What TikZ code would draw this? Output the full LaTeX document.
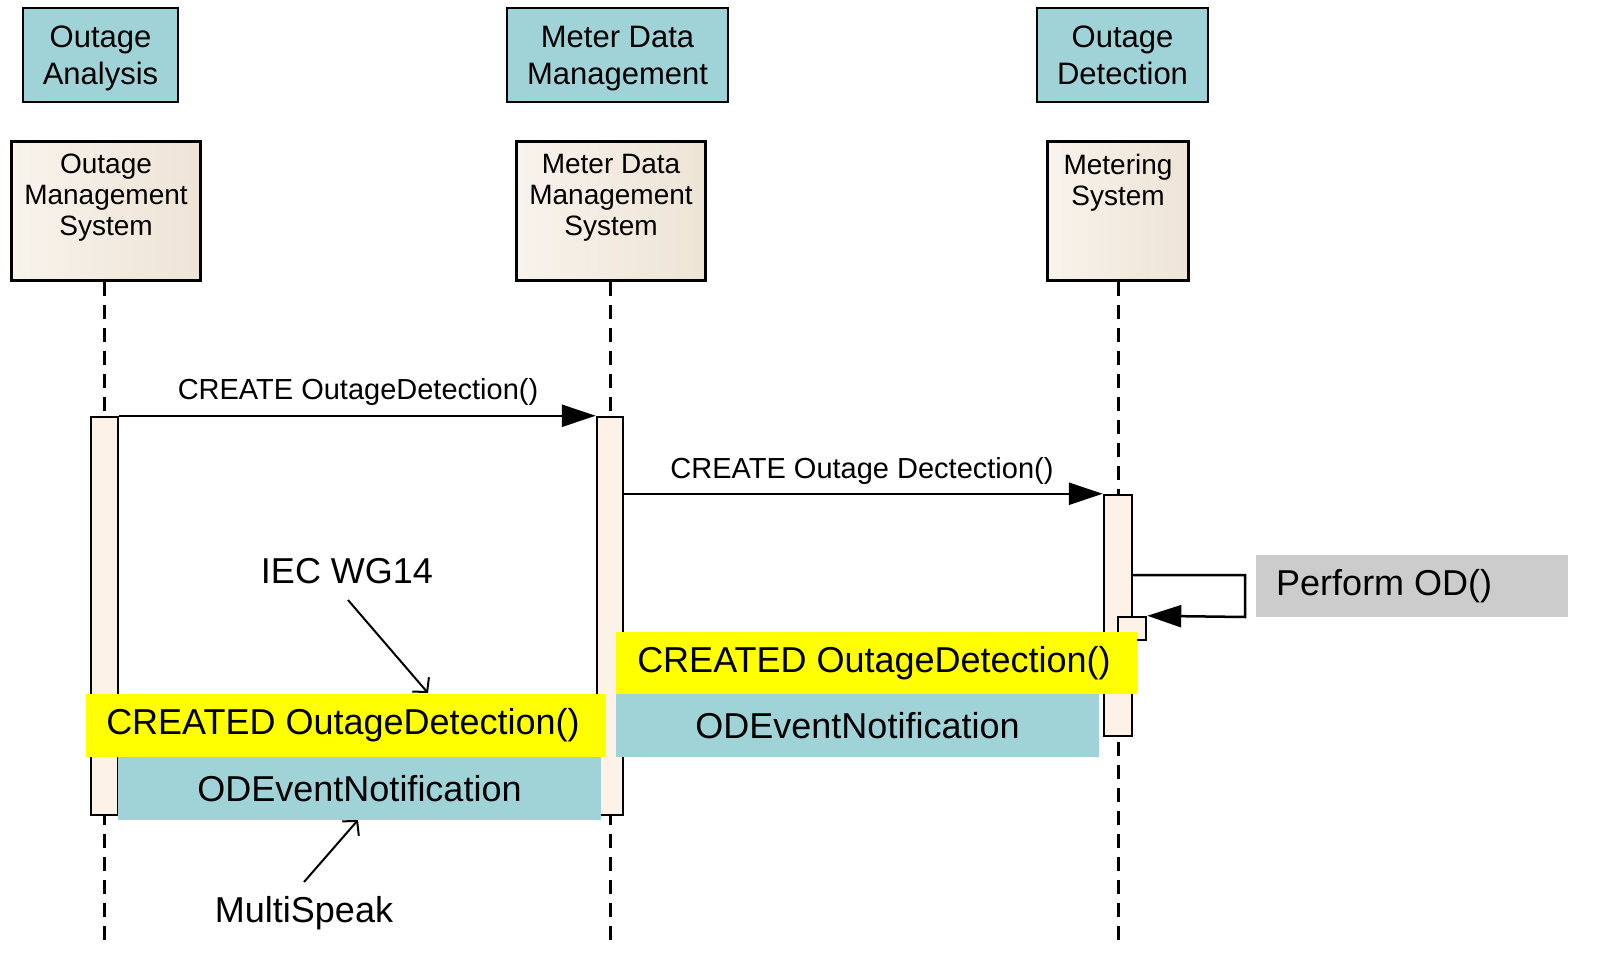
\documentclass[tikz,border=0pt]{standalone}
\usepackage{fontspec}
\setmainfont{Liberation Sans}
\usetikzlibrary{arrows.meta}
\definecolor{tealbox}{RGB}{159,211,216}
\definecolor{beigeL}{RGB}{248,243,236}
\definecolor{beigeR}{RGB}{238,228,214}
\definecolor{barfill}{RGB}{252,242,232}
\definecolor{grayod}{RGB}{204,204,204}
\definecolor{yel}{RGB}{255,255,0}
\tikzset{
  topbox/.style={draw=black, line width=2.5pt, fill=tealbox, inner sep=0pt},
  toptext/.style={inner sep=0pt, align=center, font=\fontsize{31}{37}\selectfont},
  headbox/.style={draw=black, line width=3pt, left color=beigeL, right color=beigeR, inner sep=0pt},
  headtext/.style={anchor=north, align=center, inner sep=0pt, font=\fontsize{28}{31}\selectfont},
  lifeline/.style={line width=3pt, dash pattern=on 14pt off 9pt},
  actbar/.style={draw=black, line width=2.5pt, fill=barfill, inner sep=0pt},
  msg/.style={line width=2.5pt, -{Triangle[length=34pt,width=22pt]}},
  msglabel/.style={inner sep=0pt, font=\fontsize{29}{32}\selectfont},
  band/.style={inner sep=0pt, font=\fontsize{36}{40}\selectfont},
  note/.style={inner sep=0pt, font=\fontsize{36}{40}\selectfont},
  notearrow/.style={line width=2pt, -{Straight Barb[length=10pt,width=22pt]}}
}
\begin{document}
\begin{tikzpicture}[x=1pt,y=-1pt]
\useasboundingbox (0,0) rectangle (1608,966);
% top boxes
\node[topbox, minimum width=155pt, minimum height=94pt] (oa) at (100.5,55) {};
\node[topbox, minimum width=221pt, minimum height=94pt] (mdm) at (617.5,55) {};
\node[topbox, minimum width=171pt, minimum height=94pt] (od) at (1122.5,55) {};
\node[toptext] (oat) at (100.5,58) {Outage\\Analysis};
\node[toptext] (mdmt) at (617.5,59) {Meter Data\\Management};
\node[toptext] (odt) at (1122.5,55.5) {Outage\\Detection};
% lifeline heads
\node[headbox, minimum width=189pt, minimum height=139pt] (oms) at (105.5,210.5) {};
\node[headbox, minimum width=189pt, minimum height=139pt] (mdms) at (610.5,210.5) {};
\node[headbox, minimum width=141pt, minimum height=139pt] (ms) at (1117.5,210.5) {};
\node[headtext] (omst) at (106,154) {Outage\\Management\\System};
\node[headtext] (mdmst) at (611,154) {Meter Data\\Management\\System};
\node[headtext] (mst) at (1118,154) {Metering\\System};
% lifelines
\coordinate (omsend) at (104,945);
\coordinate (mdmsend) at (610,945);
\coordinate (msend) at (1118,945);
\draw[lifeline] (104,281.5) -- (omsend);
\draw[lifeline] (610,281.5) -- (mdmsend);
\draw[lifeline] (1118,281.5) -- (msend);
% activation bars
\node[actbar, minimum width=27pt, minimum height=398pt] (omsbar) at (104.5,616) {};
\node[actbar, minimum width=26pt, minimum height=398pt] (mdmsbar) at (610,616) {};
\node[actbar, minimum width=28pt, minimum height=241pt] (msbar) at (1118,615.5) {};
\node[actbar, minimum width=28pt, minimum height=23pt] (nest) at (1132,628.5) {};
% messages
\draw[msg] (omsbar.north east) -- (mdmsbar.north west);
\node[msglabel] (m1) at (358,392) {CREATE OutageDetection()};
\draw[msg] (mdmsbar.east |- msbar.north) -- (msbar.north west);
\node[msglabel] (m2) at (862,471) {CREATE Outage Dectection()};
% self message
\coordinate (s1) at (1132,575);
\coordinate (s2) at (1245,575);
\coordinate (s3) at (1245,617);
\draw[msg] (s1) -- (s2) -- (s3) -- (nest.north east);
% perform box
\node[fill=grayod, minimum width=312pt, minimum height=62pt, inner sep=0pt] (pbox) at (1412,586) {};
\node[note, anchor=west] (ptext) at (1276,586) {Perform OD()};
% bands
\node[band, fill=yel, minimum width=520pt, minimum height=63pt] (yl) at (346,725.5) {};
\node[band] (ylt) at (343,725.5) {CREATED OutageDetection()};
\node[band, fill=tealbox, minimum width=483pt, minimum height=63pt] (tl) at (359.5,788.5) {ODEventNotification};
\node[band, fill=yel, minimum width=521pt, minimum height=62pt] (yr) at (876.5,663) {};
\node[band] (yrt) at (874,663) {CREATED OutageDetection()};
\node[band, fill=tealbox, minimum width=483pt, minimum height=63pt] (tr) at (857.5,725.5) {ODEventNotification};
% annotations
\node[note] (iec) at (347,571) {IEC WG14};
\node[note] (msp) at (304,913) {MultiSpeak};
\coordinate (iecA) at (348,600);
\coordinate (iecB) at (428,693);
\coordinate (mspA) at (304,882);
\coordinate (mspB) at (358,820);
\draw[notearrow] (iecA) -- (iecB);
\draw[notearrow] (mspA) -- (mspB);
\end{tikzpicture}
\end{document}
